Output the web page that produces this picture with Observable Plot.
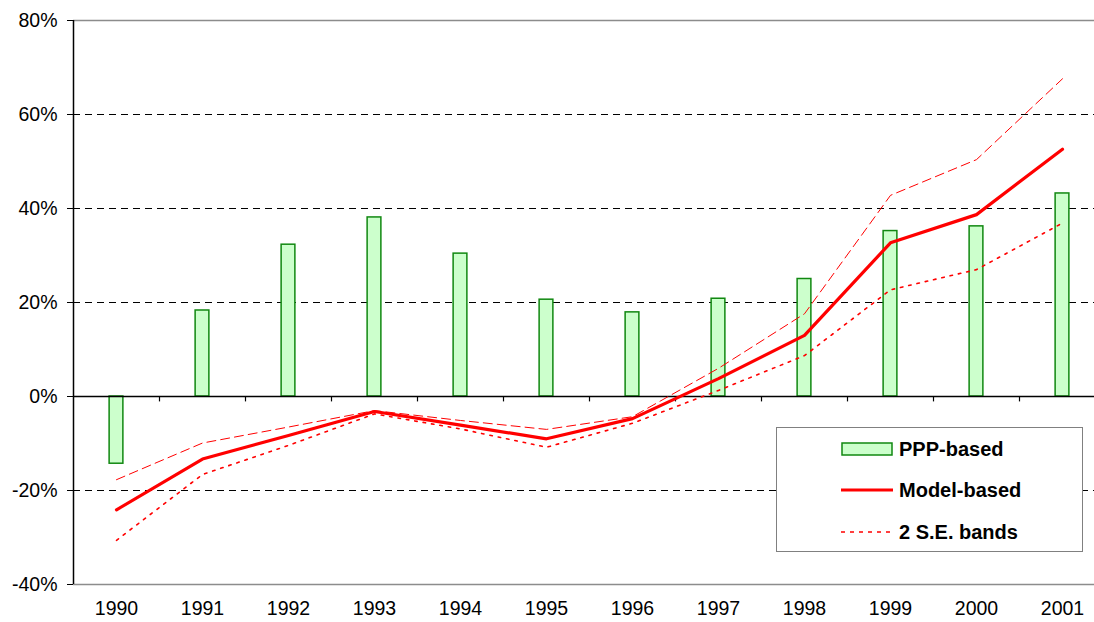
<!DOCTYPE html>
<html>
<head>
<meta charset="utf-8">
<script src="https://cdn.jsdelivr.net/npm/d3@7"></script>
<script src="https://cdn.jsdelivr.net/npm/@observablehq/plot@0.6"></script>
<style>
  html, body { margin: 0; padding: 0; background: #fff; overflow: hidden; }
  #wrap { position: relative; width: 1094px; height: 622px; overflow: hidden; font-family: "Liberation Sans", Arial, sans-serif; }
  #legend { position: absolute; left: 776px; top: 427px; width: 307px; height: 125px; border: 1.5px solid #808080; background: #fff; box-sizing: border-box; }
  .item { position: absolute; left: 64px; height: 24px; display: flex; align-items: center; font-weight: bold; font-size: 20px; color: #000; }
  .item svg { margin-right: 6px; }
</style>
</head>
<body>
<div id="wrap">
  <div id="chart"></div>
  <div id="legend"></div>
</div>
<script>
const years = [1990, 1991, 1992, 1993, 1994, 1995, 1996, 1997, 1998, 1999, 2000, 2001];
const pppBased = [-14.3, 18.3, 32.3, 38.1, 30.4, 20.6, 17.9, 20.8, 25.0, 35.2, 36.2, 43.2];
const modelBased = [-24.1, -13.3, -8.3, -3.2, -6.1, -9.0, -4.7, 3.8, 13.0, 32.7, 38.7, 52.6];
const upperBand = [-17.7, -9.9, -6.5, -3.0, -5.1, -7.0, -4.3, 6.0, 17.6, 42.8, 50.4, 67.6];
const lowerBand = [-30.6, -16.6, -10.4, -3.7, -6.9, -10.8, -5.7, 1.3, 8.7, 22.7, 27.0, 36.9];
const yTicks = [-40, -20, 0, 20, 40, 60, 80];
const gridLines = [-20, 20, 40, 60];
const legendLabels = ["PPP-based", "Model-based", "2 S.E. bands"];

const ppp = years.map((y, i) => ({year: y, v: pppBased[i]}));
const model = years.map((y, i) => ({year: y, v: modelBased[i]}));
const upper = years.map((y, i) => ({year: y, v: upperBand[i]}));
const lower = years.map((y, i) => ({year: y, v: lowerBand[i]}));
const boundaries = years.slice(1).map(y => y - 0.5);
const halfBar = 0.08;

const chart = Plot.plot({
  width: 1094,
  height: 622,
  marginLeft: 73,
  marginRight: 0,
  marginTop: 20,
  marginBottom: 38,
  style: {fontFamily: "'Liberation Sans', Arial, sans-serif", fontSize: "19.5px", background: "transparent"},
  x: {domain: [years[0] - 0.5, years[years.length - 1] + 0.5], range: [73, 1105]},
  y: {domain: [-40, 80]},
  marks: [
    Plot.ruleY(gridLines, {stroke: "#000", strokeWidth: 1, strokeDasharray: "7,5"}),
    Plot.ruleY([80, -40], {stroke: "#8c8c8c", strokeWidth: 1.5}),
    Plot.rectY(ppp, {x1: d => d.year - halfBar, x2: d => d.year + halfBar, y1: 0, y2: "v", fill: "#CCFFCC", stroke: "#118811", strokeWidth: 1.5}),
    Plot.ruleY([0], {stroke: "#000", strokeWidth: 1.5}),
    Plot.ruleX(boundaries, {y1: 0, y2: -1.15, stroke: "#000", strokeWidth: 1.2}),
    Plot.ruleX([years[0] - 0.5], {y1: -40, y2: 80, stroke: "#000", strokeWidth: 1.5}),
    Plot.line(upper, {x: "year", y: "v", stroke: "#ff0000", strokeWidth: 1, strokeDasharray: "9,5"}),
    Plot.line(lower, {x: "year", y: "v", stroke: "#ff0000", strokeWidth: 1.6, strokeDasharray: "2.5,6"}),
    Plot.line(model, {x: "year", y: "v", stroke: "#ff0000", strokeWidth: 3.2}),
    Plot.axisY({ticks: yTicks, tickFormat: d => d + "%", tickSize: 6, tickPadding: 10, label: null, stroke: "#000"}),
    Plot.axisX({ticks: years, tickFormat: d => String(d), tickSize: 0, tickPadding: 17, label: null})
  ]
});
document.getElementById("chart").appendChild(chart);

// legend
const legend = document.getElementById("legend");
const swatches = [
  `<svg width="52" height="14"><rect x="1" y="1" width="50" height="12" fill="#CCFFCC" stroke="#118811" stroke-width="1.5"/></svg>`,
  `<svg width="52" height="14"><line x1="0" x2="52" y1="7" y2="7" stroke="#ff0000" stroke-width="3.2"/></svg>`,
  `<svg width="52" height="14"><line x1="0" x2="52" y1="7" y2="7" stroke="#ff0000" stroke-width="1.6" stroke-dasharray="4,5"/></svg>`
];
const rowCenters = [21, 62, 104];
legendLabels.forEach((lab, i) => {
  const div = document.createElement("div");
  div.className = "item";
  div.style.top = (rowCenters[i] - 12) + "px";
  div.innerHTML = swatches[i] + `<span>${lab}</span>`;
  legend.appendChild(div);
});
</script>
</body>
</html>
